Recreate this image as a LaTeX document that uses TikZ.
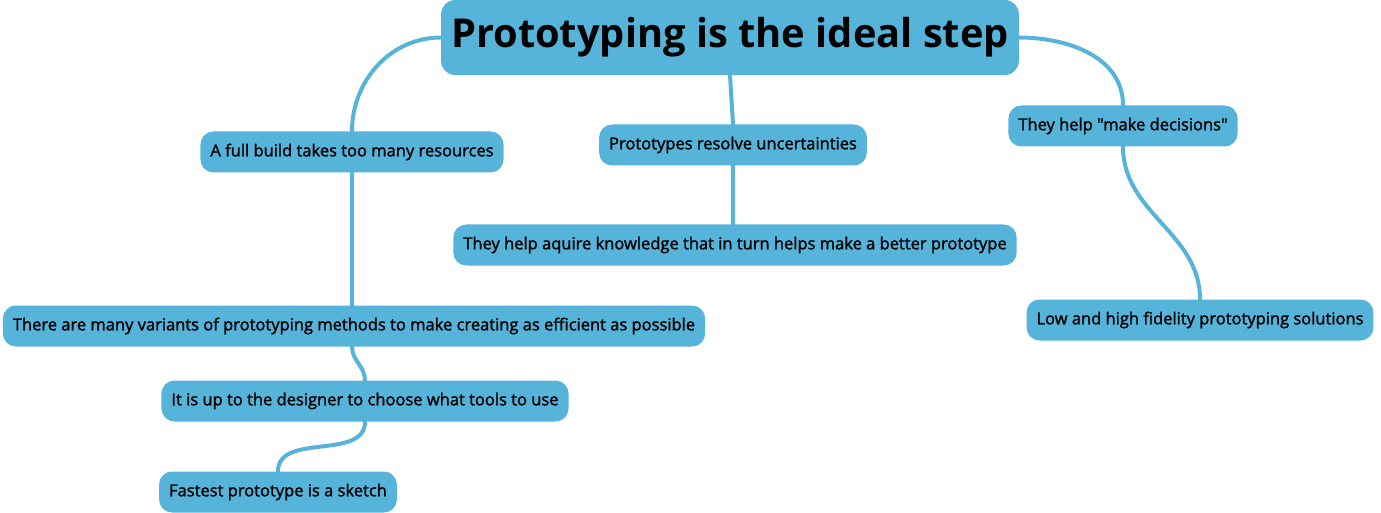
\documentclass[tikz,border=0pt]{standalone}
\usepackage{fontspec}
\setmainfont{Open Sans}
\newfontfamily\semibold{Open Sans}[FakeBold=1.5]
\usepackage{xcolor}
\usetikzlibrary{positioning, backgrounds}

\definecolor{mapblue}{RGB}{86,179,217}

\begin{document}
\begin{tikzpicture}[
  x=1pt, y=-1pt,
  rootnode/.style={rectangle, rounded corners=14pt, fill=mapblue, minimum height=75pt, inner xsep=10pt, font=\fontsize{39.8}{42}\selectfont\bfseries},
  topic/.style={rectangle, rounded corners=13pt, fill=mapblue, minimum height=41pt, inner xsep=10pt, font=\fontsize{16.5}{18}\selectfont\semibold},
  branch/.style={draw=mapblue, line width=4pt, line cap=round}
]
  \useasboundingbox (0,0) rectangle (1381,513);

  \node[rootnode] (root) at (730,37.5) {Prototyping is the ideal step};

  \node[topic] (build)    at (352,152) {A full build takes too many resources};
  \node[topic] (resolve)  at (733,145) {Prototypes resolve uncertainties};
  \node[topic] (decide)   at (1123,126) {They help "make decisions"};
  \node[topic] (acquire)  at (735,245) {They help aquire knowledge that in turn helps make a better prototype};
  \node[topic] (variants) at (354,326) {There are many variants of prototyping methods to make creating as efficient as possible};
  \node[topic] (fidelity) at (1200,320) {Low and high fidelity prototyping solutions};
  \node[topic] (tools)    at (365,401) {It is up to the designer to choose what tools to use};
  \node[topic] (sketch)   at (278,492) {Fastest prototype is a sketch};

  \begin{scope}[on background layer]
    \draw[branch] (root.west) to[out=180, in=90] (build.north);
    \draw[branch] (root.south) -- (resolve.north);
    \draw[branch] (root.east) to[out=0, in=90] (decide.north);
    \draw[branch] (build.south) -- (build.south |- variants.north);
    \draw[branch] (resolve.south) -- (resolve.south |- acquire.north);
    \draw[branch] (decide.south) to[out=-90, in=90] (fidelity.north);
    \draw[branch] (build.south |- variants.south) to[out=-90, in=90] (tools.north);
    \draw[branch] (tools.south) to[out=-90, in=90] (sketch.north);
  \end{scope}
\end{tikzpicture}
\end{document}
